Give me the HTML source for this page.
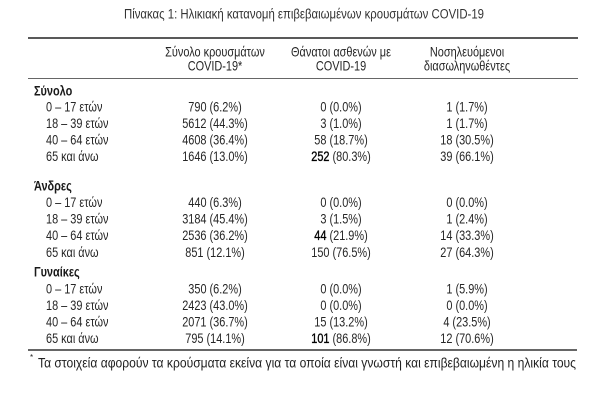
<!DOCTYPE html>
<html>
<head>
<meta charset="utf-8">
<style>
  html,body{margin:0;padding:0;background:#fff;}
  svg{display:block;}
  text{font-family:"Liberation Sans","Noto Sans CJK SC",sans-serif;fill:#262626;font-size:13.5px;}
  .b{font-weight:bold;fill:#1a1a1a;}
  .k{fill:#000;stroke:#000;stroke-width:0.35;}
</style>
</head>
<body>
<svg width="610" height="418" viewBox="0 0 610 418" xmlns="http://www.w3.org/2000/svg">
  <rect width="610" height="418" fill="#fff"/>

  <!-- Title -->
  <text x="124" y="18.5" style="font-size:13.5px;fill:#333" textLength="360" lengthAdjust="spacingAndGlyphs">Πίνακας 1: Ηλικιακή κατανομή επιβεβαιωμένων κρουσμάτων COVID-19</text>

  <!-- rules -->
  <line x1="28" y1="38" x2="578" y2="38" stroke="#222" stroke-width="1.6"/>
  <line x1="28" y1="78.5" x2="578" y2="78.5" stroke="#666" stroke-width="1"/>
  <line x1="28" y1="350" x2="577" y2="350" stroke="#333" stroke-width="1.5"/>

  <!-- Group headings -->
  <g transform="translate(34,0) scale(0.81,1)">
    <text class="b" x="0" y="95.5">Σύνολο</text>
    <text class="b" x="0" y="190.5">Άνδρες</text>
    <text class="b" x="0" y="276.5">Γυναίκες</text>
  </g>

  <!-- Row labels -->
  <g transform="translate(46,0) scale(0.81,1)">
    <text x="0" y="111.5">0 – 17 ετών</text>
    <text x="0" y="128">18 – 39 ετών</text>
    <text x="0" y="144.5">40 – 64 ετών</text>
    <text x="0" y="161">65 και άνω</text>

    <text x="0" y="207">0 – 17 ετών</text>
    <text x="0" y="223.5">18 – 39 ετών</text>
    <text x="0" y="240">40 – 64 ετών</text>
    <text x="0" y="256.8">65 και άνω</text>

    <text x="0" y="293.5">0 – 17 ετών</text>
    <text x="0" y="310">18 – 39 ετών</text>
    <text x="0" y="326.5">40 – 64 ετών</text>
    <text x="0" y="343">65 και άνω</text>
  </g>

  <!-- Column 1 -->
  <g transform="translate(215,0) scale(0.81,1)" text-anchor="middle">
    <text x="0" y="56.5">Σύνολο κρουσμάτων</text>
    <text x="0" y="70.5">COVID-19*</text>

    <text x="0" y="111.5">790 (6.2%)</text>
    <text x="0" y="128">5612 (44.3%)</text>
    <text x="0" y="144.5">4608 (36.4%)</text>
    <text x="0" y="161">1646 (13.0%)</text>

    <text x="0" y="207">440 (6.3%)</text>
    <text x="0" y="223.5">3184 (45.4%)</text>
    <text x="0" y="240">2536 (36.2%)</text>
    <text x="0" y="256.8">851 (12.1%)</text>

    <text x="0" y="293.5">350 (6.2%)</text>
    <text x="0" y="310">2423 (43.0%)</text>
    <text x="0" y="326.5">2071 (36.7%)</text>
    <text x="0" y="343">795 (14.1%)</text>
  </g>

  <!-- Column 2 -->
  <g transform="translate(341,0) scale(0.81,1)" text-anchor="middle">
    <text x="0" y="56.5">Θάνατοι ασθενών με</text>
    <text x="0" y="70.5">COVID-19</text>

    <text x="0" y="111.5">0 (0.0%)</text>
    <text x="0" y="128">3 (1.0%)</text>
    <text x="0" y="144.5">58 (18.7%)</text>
    <text x="0" y="161"><tspan class="k">252</tspan> (80.3%)</text>

    <text x="0" y="207">0 (0.0%)</text>
    <text x="0" y="223.5">3 (1.5%)</text>
    <text x="0" y="240"><tspan class="k">44</tspan> (21.9%)</text>
    <text x="0" y="256.8">150 (76.5%)</text>

    <text x="0" y="293.5">0 (0.0%)</text>
    <text x="0" y="310">0 (0.0%)</text>
    <text x="0" y="326.5">15 (13.2%)</text>
    <text x="0" y="343"><tspan class="k">101</tspan> (86.8%)</text>
  </g>

  <!-- Column 3 -->
  <g transform="translate(467,0) scale(0.81,1)" text-anchor="middle">
    <text x="0" y="56.5">Νοσηλευόμενοι</text>
    <text x="0" y="70.5">διασωληνωθέντες</text>

    <text x="0" y="111.5">1 (1.7%)</text>
    <text x="0" y="128">1 (1.7%)</text>
    <text x="0" y="144.5">18 (30.5%)</text>
    <text x="0" y="161">39 (66.1%)</text>

    <text x="0" y="207">0 (0.0%)</text>
    <text x="0" y="223.5">1 (2.4%)</text>
    <text x="0" y="240">14 (33.3%)</text>
    <text x="0" y="256.8">27 (64.3%)</text>

    <text x="0" y="293.5">1 (5.9%)</text>
    <text x="0" y="310">0 (0.0%)</text>
    <text x="0" y="326.5">4 (23.5%)</text>
    <text x="0" y="343">12 (70.6%)</text>
  </g>

  <!-- Footnote -->
  <text x="30" y="360" style="font-size:8px;fill:#222">*</text>
  <text x="38" y="367.5" style="font-size:13.5px;fill:#222" textLength="538" lengthAdjust="spacingAndGlyphs">Τα στοιχεία αφορούν τα κρούσματα εκείνα για τα οποία είναι γνωστή και επιβεβαιωμένη η ηλικία τους</text>
</svg>
</body>
</html>
